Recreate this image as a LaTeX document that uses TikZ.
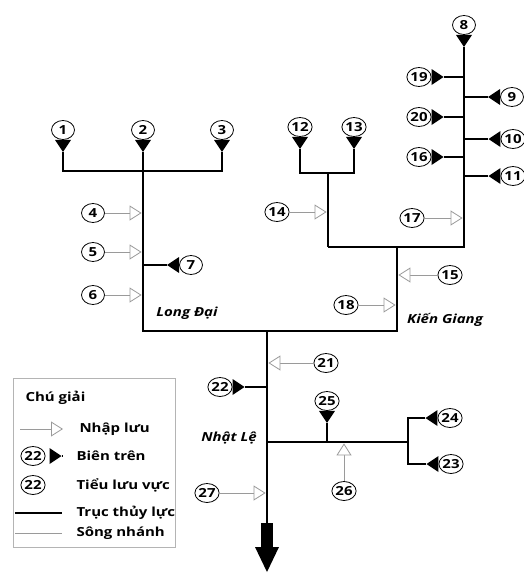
\documentclass[tikz,border=0pt]{standalone}
\usepackage{fontspec}
\setmainfont{Open Sans}[FakeStretch=1.2]
\usetikzlibrary{arrows.meta,shapes.geometric}
\definecolor{thin}{HTML}{9A9A9A}
\definecolor{frame}{HTML}{B4B4B4}

\begin{document}
\begin{tikzpicture}[
  x=1pt,y=-1pt,
  font=\bfseries\fontsize{12.5}{14}\selectfont,
  sub/.style={draw,ellipse,line width=0.8pt,inner sep=0pt,minimum width=23pt,minimum height=19pt},
  trunk/.style={line width=2.8pt},
  bnd/.style={trunk,-{Triangle[reversed,length=12pt,width=16pt,line width=0pt]}},
  bndtwo/.style={trunk,{Triangle[reversed,length=12pt,width=16pt,line width=0pt]}-{Triangle[reversed,length=12pt,width=16pt,line width=0pt]}},
  inflow/.style={draw=thin,line width=0.8pt,shorten >=1.4pt,-{Triangle[length=12pt,width=15pt,fill=white]}},
  branch/.style={draw=thin,line width=0.8pt},
  river/.style={font=\bfseries\itshape\fontsize{12.5}{14}\selectfont},
  legtext/.style={anchor=west},
  outlet/.style={line width=12pt,-{Triangle[length=25pt,width=24pt,line width=0pt]}}
]
\useasboundingbox (0,0) rectangle (524,573);

% sub-basins
\node[sub] (c1) at (63,130) {1};
\node[sub] (c2) at (143,130) {2};
\node[sub] (c3) at (222,130) {3};
\node[sub] (c4) at (93,213) {4};
\node[sub] (c5) at (93,252) {5};
\node[sub] (c6) at (93,295) {6};
\node[sub] (c7) at (191,265) {7};
\node[sub] (c8) at (464,25) {8};
\node[sub] (c9) at (512,97) {9};
\node[sub] (c10) at (513,139) {10};
\node[sub] (c11) at (513,176) {11};
\node[sub] (c12) at (300,127) {12};
\node[sub] (c13) at (354,127) {13};
\node[sub] (c14) at (277,212) {14};
\node[sub] (c15) at (450,275) {15};
\node[sub] (c16) at (419,157) {16};
\node[sub] (c17) at (412,218) {17};
\node[sub] (c18) at (346,305) {18};
\node[sub] (c19) at (419,77) {19};
\node[sub] (c20) at (419,117) {20};
\node[sub] (c21) at (326,363) {21};
\node[sub] (c22) at (220,387) {22};
\node[sub] (c23) at (451,464) {23};
\node[sub] (c24) at (450,418) {24};
\node[sub] (c25) at (327,401) {25};
\node[sub] (c26) at (344,491) {26};
\node[sub] (c27) at (207,493) {27};

% river junctions
\coordinate (j2) at (143,171);
\coordinate (j7) at (143,265);
\coordinate (k1) at (397,247);
\coordinate (k2) at (397,331);
\coordinate (m3) at (328,173);
\coordinate (m4) at (328,247);
\coordinate (n1) at (267,331);
\coordinate (n2) at (267,523);
\coordinate (n3) at (267,442);
\coordinate (e1) at (408,442);
\coordinate (out) at (267,572);

% hydraulic axis
\draw[bndtwo] (c1) |- (j2) -| (c3);
\draw[bnd] (j2) -- (c2);
\draw[trunk] (j2) |- (k2) -- (k1);
\draw[bnd] (m4) -| (c8);
\draw[bndtwo] (c12) |- (m3) -| (c13);
\draw[trunk] (m3) -- (m4);
\draw[trunk] (n1) -- (n2);
\draw[outlet] (n2) -- (out);
\draw[trunk] (n3) -- (e1);
\draw[bndtwo] (c24) -| (e1) |- (c23);

% upper boundaries
\draw[bnd] (j7) -- (c7);
\draw[bnd] (464,77) coordinate (j19) -- (c19);
\draw[bnd] (464,97) coordinate (j9) -- (c9);
\draw[bnd] (464,117) coordinate (j20) -- (c20);
\draw[bnd] (464,139) coordinate (j10) -- (c10);
\draw[bnd] (464,157) coordinate (j16) -- (c16);
\draw[bnd] (464,176) coordinate (j11) -- (c11);
\draw[bnd] (267,387) coordinate (j22) -- (c22);
\draw[bnd] (327,442) coordinate (j25) -- (c25);

% inflows
\draw[inflow] (c4) -- (143,213);
\draw[inflow] (c5) -- (143,252);
\draw[inflow] (c6) -- (143,295);
\draw[inflow] (c14) -- (328,212);
\draw[inflow] (c17) -- (464,218);
\draw[inflow] (c15) -- (397,275);
\draw[inflow] (c18) -- (397,305);
\draw[inflow] (c21) -- (267,363);
\draw[inflow] (c26) -- (344,442);
\draw[inflow] (c27) -- (267,493);

% river names
\node[river] (longdai) at (187,313) {Long Đại};
\node[river] (kiengiang) at (445,320) {Kiến Giang};
\node[river] (nhatle) at (229,438) {Nhật Lệ};

% legend
\draw[draw=frame,line width=0.8pt] (13,378) rectangle (175,547);
\node[legtext] (legtitle) at (22,398) {Chú giải};
\draw[inflow,shorten >=0pt] (20,429) coordinate (lg1a) -- (63,429) coordinate (lg1b);
\node[legtext] (lgt1) at (76,429) {Nhập lưu};
\node[sub] (lgc2) at (33,456) {22};
\draw[bnd,shorten >=4pt] (62,456) coordinate (lg2) -- (lgc2);
\node[legtext] (lgt2) at (73,456) {Biên trên};
\node[sub] (lgc3) at (33,485) {22};
\node[legtext] (lgt3) at (73,485) {Tiểu lưu vực};
\draw[trunk] (15,513) coordinate (lg4a) -- (62,513) coordinate (lg4b);
\node[legtext] (lgt4) at (73,513) {Trục thủy lực};
\draw[branch] (15,533) coordinate (lg5a) -- (62,533) coordinate (lg5b);
\node[legtext] (lgt5) at (73,533) {Sông nhánh};
\end{tikzpicture}
\end{document}
